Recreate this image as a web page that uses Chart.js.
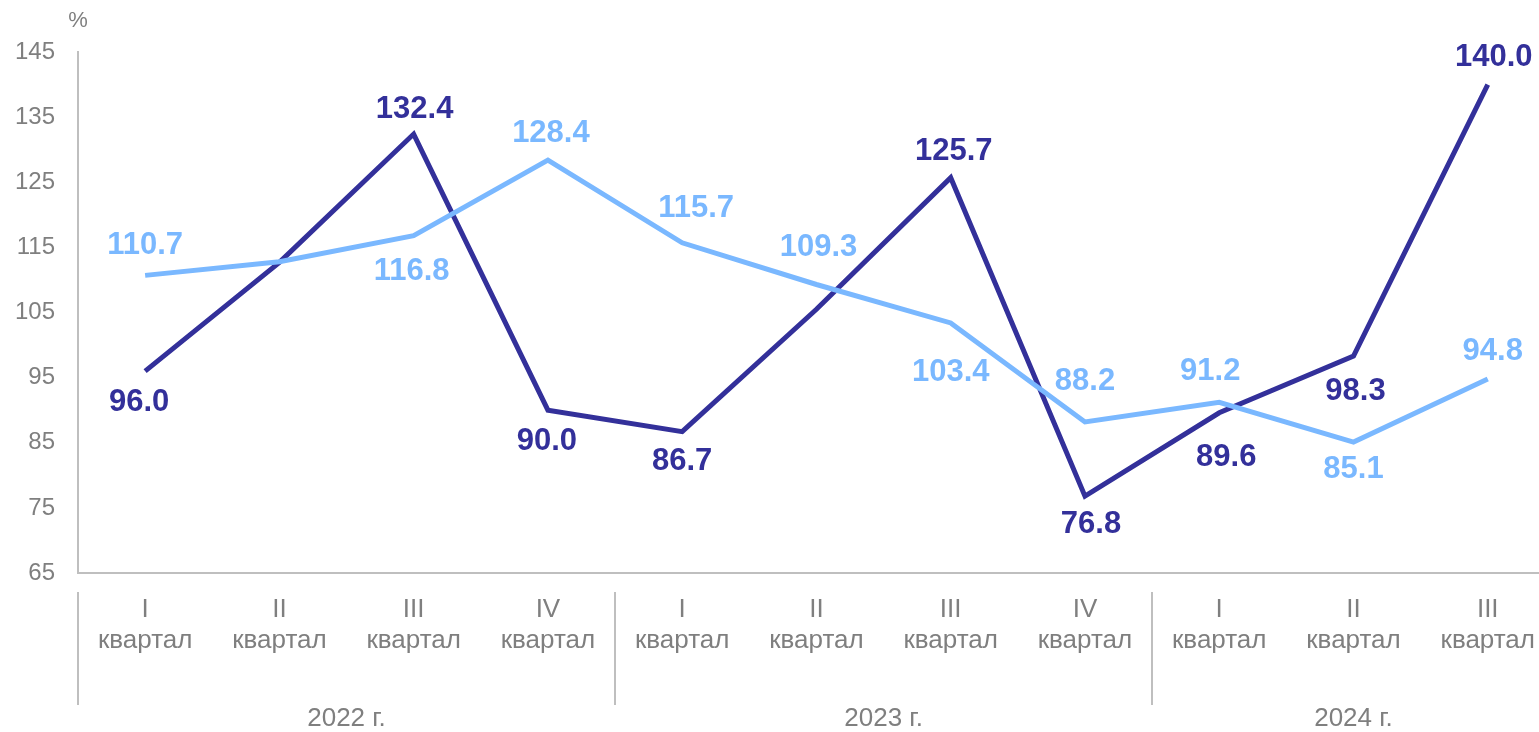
<!DOCTYPE html>
<html>
<head>
<meta charset="utf-8">
<script src="https://cdn.jsdelivr.net/npm/chart.js@4.4.1/dist/chart.umd.min.js"></script>
<style>
html,body{margin:0;padding:0;background:#fff;overflow:hidden;width:1539px;height:732px;}
#wrap{position:absolute;left:0;top:0;width:1556px;height:732px;}
</style>
</head>
<body>
<div id="wrap"><canvas id="c"></canvas></div>
<script>
// ---- data ----
const quarterLabels = [["I","квартал"],["II","квартал"],["III","квартал"],["IV","квартал"],
                       ["I","квартал"],["II","квартал"],["III","квартал"],["IV","квартал"],
                       ["I","квартал"],["II","квартал"],["III","квартал"]];
const years = ["2022 г.","2023 г.","2024 г."];
const yearSizes = [4,4,3];
const seriesDark = [96.0,112.7,132.4,90.0,86.7,105.5,125.7,76.8,89.6,98.3,140.0];
const seriesLight = [110.7,112.8,116.8,128.4,115.7,109.3,103.4,88.2,91.2,85.1,94.8];
const yTicks = [65,75,85,95,105,115,125,135,145];
const unitLabel = "%";

// ---- label layout (dx, dy in px; null = no label) ----
const darkLabelLayout = [[-6,31],null,[1,-25],[-1,31],[0,30],null,[3,-26],[6,28],[7,45],[2,35],[6,-27]];
const lightLabelLayout = [[0,-30],null,[-2,36],[3,-27],[14,-34],[2,-37],[0,50],[0,-40],[-9,-31],[0,27],[5,-27]];

const DARK = "#33309A";
const LIGHT = "#7AB8FF";
const GREY = "#7F7F7F";
const AXIS = "#BFBFBF";
const FONT = "'Liberation Sans', Arial, sans-serif";

const extras = {
  id: 'extras',
  afterDraw(chart) {
    const ctx = chart.ctx;
    const x = chart.scales.x;
    const area = chart.chartArea;
    const step = x.getPixelForValue(1) - x.getPixelForValue(0);
    ctx.save();
    ctx.fillStyle = GREY;
    ctx.font = "22px " + FONT;
    ctx.textAlign = "center";
    ctx.textBaseline = "middle";
    ctx.fillText(unitLabel, area.left, 21);
    // year separators and labels
    let idx = 0;
    ctx.strokeStyle = AXIS;
    ctx.lineWidth = 2;
    const bounds = [];
    for (let g = 0; g < years.length; g++) {
      const left = x.getPixelForValue(idx) - step / 2;
      const right = x.getPixelForValue(idx + yearSizes[g] - 1) + step / 2;
      bounds.push(left);
      if (g === years.length - 1) bounds.push(right);
      ctx.fillStyle = GREY;
      ctx.font = "26px " + FONT;
      ctx.fillText(years[g], (left + right) / 2, 719);
      idx += yearSizes[g];
    }
    bounds.forEach(b => {
      const bx = Math.round(b);
      ctx.beginPath();
      ctx.moveTo(bx, 592);
      ctx.lineTo(bx, 705);
      ctx.stroke();
    });
    // data labels
    ctx.font = "bold 31px " + FONT;
    chart.data.datasets.forEach((ds, di) => {
      const meta = chart.getDatasetMeta(di);
      const layout = ds.labelLayout;
      meta.data.forEach((pt, i) => {
        const lay = layout[i];
        if (!lay) return;
        ctx.fillStyle = ds.borderColor;
        ctx.fillText(ds.data[i].toFixed(1), pt.x + lay[0], pt.y + lay[1]);
      });
    });
    ctx.restore();
  }
};

new Chart(document.getElementById('c'), {
  type: 'line',
  data: {
    labels: quarterLabels,
    datasets: [
      { data: seriesLight, labelLayout: lightLabelLayout, borderColor: LIGHT, borderWidth: 5, pointRadius: 0, tension: 0, fill: false },
      { data: seriesDark, labelLayout: darkLabelLayout, borderColor: DARK, borderWidth: 5, pointRadius: 0, tension: 0, fill: false }
    ]
  },
  options: {
    responsive: true,
    maintainAspectRatio: false,
    animation: false,
    events: [],
    layout: { padding: { top: 52, right: 0, left: 0, bottom: 0 } },
    plugins: { legend: { display: false }, tooltip: { enabled: false } },
    scales: {
      x: {
        offset: true,
        grid: { display: false, drawTicks: false },
        border: { display: true, color: AXIS, width: 2 },
        ticks: { color: GREY, font: { size: 26, family: FONT, lineHeight: 1.2 }, padding: 21, maxRotation: 0, autoSkip: false },
        afterFit(s) { s.height = 159; }
      },
      y: {
        min: 65, max: 145,
        afterBuildTicks(s) { s.ticks = yTicks.map(v => ({ value: v })); },
        grid: { display: false, drawTicks: false },
        border: { display: true, color: AXIS, width: 2 },
        ticks: { color: GREY, font: { size: 24, family: FONT }, padding: 23 },
        afterFit(s) { s.width = 78; }
      }
    }
  },
  plugins: [extras]
});
</script>
</body>
</html>
